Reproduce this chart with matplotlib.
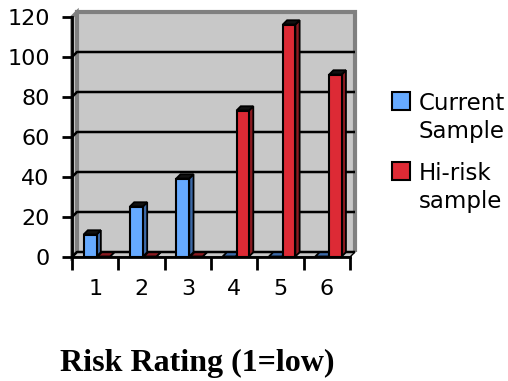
import numpy as np
import matplotlib.pyplot as plt
from matplotlib.patches import Polygon, Rectangle

# data
ratings = [1, 2, 3, 4, 5, 6]
current = [11, 25, 39, 0, 0, 0]
hirisk = [0, 0, 0, 73, 116, 91]
yticks = [0, 20, 40, 60, 80, 100, 120]

fig = plt.figure(figsize=(5.08, 3.81), dpi=100)
ax = fig.add_axes([72/508, 1-257/381, 278/508, 240/381])
ax.set_xlim(0.5, 6.5)
ax.set_ylim(0, 120)
ax.patch.set_visible(False)

DX, DY = 0.108, 2.5    # depth offset of the back wall (data units)
wall = '#c8c8c8'
edge = '#808080'

# left side wall, back wall, floor
ax.add_patch(Polygon([(0.5, 0), (0.5+DX, DY), (0.5+DX, 120+DY), (0.5, 120)],
                     closed=True, fc=wall, ec=edge, lw=2.5, clip_on=False, zorder=0.5))
ax.add_patch(Polygon([(0.5+DX, DY), (0.5+DX, 120+DY), (6.5+DX, 120+DY), (6.5+DX, DY)],
                     closed=False, fc=wall, ec=edge, lw=3, clip_on=False, zorder=0.6))
ax.add_patch(Polygon([(0.5, 0), (6.5, 0), (6.5+DX, DY), (0.5+DX, DY)],
                     closed=True, fc=wall, ec='black', lw=1, clip_on=False, zorder=0.7))

# gridlines on the back wall
for v in yticks[:-1]:
    ax.plot([0.5, 0.5+DX, 6.5+DX], [v, v+DY, v+DY], color='black', lw=1.8,
            clip_on=False, zorder=1, solid_capstyle='butt')

def bar3d(x0, w, v, col, side, top):
    t0, t1 = 0.1, 0.95
    ax.bar(x0 + t0*DX, v, width=w, bottom=t0*DY, align='edge', color=col,
           edgecolor='black', lw=1.5, zorder=3, clip_on=False)
    xr = x0 + w
    ax.add_patch(Polygon([(xr+t0*DX, t0*DY), (xr+t1*DX, t1*DY), (xr+t1*DX, v+t1*DY),
                          (xr+t0*DX, v+t0*DY)], closed=True, fc=side, ec='black',
                         lw=1.3, zorder=2.9, clip_on=False))
    ax.add_patch(Polygon([(x0+t0*DX, v+t0*DY), (xr+t0*DX, v+t0*DY), (xr+t1*DX, v+t1*DY),
                          (x0+t1*DX, v+t1*DY)], closed=True,
                         fc=(top if v > 0 else side), ec='black', lw=1.3,
                         zorder=2.9, clip_on=False))

for c, vb, vr in zip(ratings, current, hirisk):
    bar3d(c - 0.26, 0.28, vb, '#66aaff', '#3d6aa8', '#111111')
    bar3d(c + 0.04, 0.27, vr, '#dd2a35', '#8a1a20', '#111111')

# axes
for s in ['top', 'right']:
    ax.spines[s].set_visible(False)
for s in ['left', 'bottom']:
    ax.spines[s].set_linewidth(2)
    ax.spines[s].set_zorder(4)
ax.set_yticks(yticks)
ax.tick_params(axis='y', length=7, width=2, pad=9, labelsize=16)
ax.set_xticks(ratings)
ax.set_xticklabels([str(r) for r in ratings])
ax.set_xticks(np.arange(0.5, 7, 1), minor=True)
ax.tick_params(axis='x', which='major', length=0, pad=15.5, labelsize=16)
ax.tick_params(axis='x', which='minor', length=9, width=2)

fig.text(197/508, 1-363/381, 'Risk Rating (1=low)', ha='center', va='center',
         family='Liberation Serif', fontweight='bold', fontsize=23)

# legend
fig.patches.append(Rectangle((392/508, 1-110/381), 18/508, 18/381, fc='#66aaff',
                             ec='black', lw=1.5, transform=fig.transFigure))
fig.patches.append(Rectangle((392/508, 1-180/381), 18/508, 18/381, fc='#dd2a35',
                             ec='black', lw=1.5, transform=fig.transFigure))
for txt, yb in [('Current', 110), ('Sample', 138), ('Hi-risk', 180), ('sample', 208)]:
    fig.text(419/508, 1-yb/381, txt, ha='left', va='baseline', fontsize=16.5)

fig.savefig('out.png', dpi=100)
